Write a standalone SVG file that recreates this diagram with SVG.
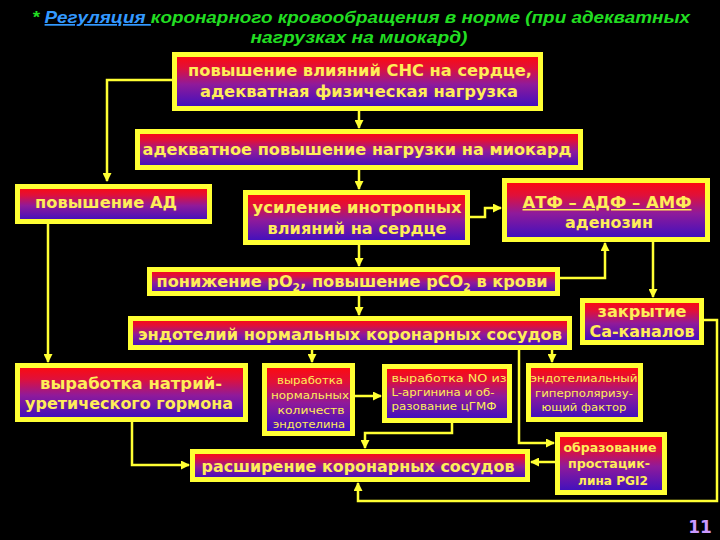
<svg xmlns="http://www.w3.org/2000/svg" width="720" height="540" viewBox="0 0 720 540">
<defs>
<linearGradient id="g" x1="0" y1="0" x2="0" y2="1">
<stop offset="0" stop-color="#ff0a0a"/>
<stop offset="0.25" stop-color="#e0103a"/>
<stop offset="0.55" stop-color="#901a9a"/>
<stop offset="1" stop-color="#3a10c0"/>
</linearGradient>
<marker id="a" markerUnits="userSpaceOnUse" markerWidth="9" markerHeight="9" refX="8" refY="4.5" orient="auto">
<path d="M0,0 L9,4.5 L0,9 z" fill="#ffff33"/>
</marker>
<style>
.box{fill:url(#g);stroke:#ffff33;stroke-width:5}
.t{font-family:"DejaVu Sans",sans-serif;font-weight:bold;fill:#ffee58;text-anchor:middle}
.m{font-size:15px}
.s{font-size:10.5px;font-weight:normal}
.c{fill:none;stroke:#ffff33;stroke-width:2.5}
.title{font-family:"Liberation Sans",sans-serif;font-style:italic;font-weight:bold;font-size:17px;fill:#22dd22}
</style>
</defs>
<rect width="720" height="540" fill="#000"/>
<g id="title">
<text class="title" x="32" y="23" textLength="658" lengthAdjust="spacingAndGlyphs">* <tspan fill="#3399ff" text-decoration="underline">Регуляция </tspan>коронарного кровообращения в норме (при адекватных</text>
<text class="title" x="359" y="43" text-anchor="middle" textLength="217" lengthAdjust="spacingAndGlyphs">нагрузках на миокард)</text>
</g>
<g id="connectors">
<path class="c" d="M172,80 H107 V181" marker-end="url(#a)"/>
<path class="c" d="M359,111 V128" marker-end="url(#a)"/>
<path class="c" d="M359,170 V189" marker-end="url(#a)"/>
<path class="c" d="M359,245 V266" marker-end="url(#a)"/>
<path class="c" d="M470,217 H485 V208 H501" marker-end="url(#a)"/>
<path class="c" d="M560,278 H605 V243" marker-end="url(#a)"/>
<path class="c" d="M653,242 V297" marker-end="url(#a)"/>
<path class="c" d="M359,296 V315" marker-end="url(#a)"/>
<path class="c" d="M48,224 V362" marker-end="url(#a)"/>
<path class="c" d="M312,350 V362" marker-end="url(#a)"/>
<path class="c" d="M552,350 V362" marker-end="url(#a)"/>
<path class="c" d="M519,350 V443 H554" marker-end="url(#a)"/>
<path class="c" d="M355,396 H381" marker-end="url(#a)"/>
<path class="c" d="M452,423 V433 H365 V448" marker-end="url(#a)"/>
<path class="c" d="M132,422 V465 H189" marker-end="url(#a)"/>
<path class="c" d="M555,462 H531" marker-end="url(#a)"/>
<path class="c" d="M704,320 H717 V501 H358 V483" marker-end="url(#a)"/>
</g>
<g id="n1">
<rect class="box" x="174.5" y="54.5" width="366" height="54"/>
<text class="t m" x="360" y="76" textLength="344" lengthAdjust="spacingAndGlyphs">повышение влияний СНС на сердце,</text>
<text class="t m" x="359" y="97" textLength="318" lengthAdjust="spacingAndGlyphs">адекватная физическая нагрузка</text>
</g>
<g id="n2">
<rect class="box" x="137.5" y="131.5" width="443" height="36"/>
<text class="t m" x="357" y="155" textLength="429" lengthAdjust="spacingAndGlyphs">адекватное повышение нагрузки на миокард</text>
</g>
<g id="n3">
<rect class="box" x="17.5" y="186.5" width="192" height="35"/>
<text class="t m" x="106" y="208" textLength="142" lengthAdjust="spacingAndGlyphs">повышение АД</text>
</g>
<g id="n4">
<rect class="box" x="245.5" y="192.5" width="222" height="50"/>
<text class="t m" x="357" y="213" textLength="209" lengthAdjust="spacingAndGlyphs">усиление инотропных</text>
<text class="t m" x="357" y="234" textLength="179" lengthAdjust="spacingAndGlyphs">влияний на сердце</text>
</g>
<g id="n5">
<rect class="box" x="504.5" y="180.5" width="203" height="59"/>
<text class="t m" x="607" y="208" textLength="169" lengthAdjust="spacingAndGlyphs" text-decoration="underline">АТФ – АДФ – АМФ</text>
<text class="t m" x="609" y="228" textLength="88" lengthAdjust="spacingAndGlyphs">аденозин</text>
</g>
<g id="n6">
<rect class="box" x="149.5" y="269.5" width="408" height="24"/>
<text class="t m" x="352" y="287" textLength="391" lengthAdjust="spacingAndGlyphs">понижение pO<tspan font-size="10" dy="4">2</tspan><tspan dy="-4">, повышение pCO</tspan><tspan font-size="10" dy="4">2</tspan><tspan dy="-4"> в крови</tspan></text>
</g>
<g id="n7">
<rect class="box" x="130.5" y="318.5" width="439" height="29"/>
<text class="t m" x="350" y="340" textLength="424" lengthAdjust="spacingAndGlyphs">эндотелий нормальных коронарных сосудов</text>
</g>
<g id="n8">
<rect class="box" x="582.5" y="300.5" width="119" height="42"/>
<text class="t m" x="642" y="317" font-size="16" textLength="89" lengthAdjust="spacingAndGlyphs">закрытие</text>
<text class="t m" x="642" y="337" font-size="16" textLength="105" lengthAdjust="spacingAndGlyphs">Са-каналов</text>
</g>
<g id="n9">
<rect class="box" x="17.5" y="365.5" width="228" height="54"/>
<text class="t m" x="131" y="389" textLength="182" lengthAdjust="spacingAndGlyphs">выработка натрий-</text>
<text class="t m" x="129" y="409" textLength="208" lengthAdjust="spacingAndGlyphs">уретического гормона</text>
</g>
<g id="n10">
<rect class="box" x="264.5" y="365.5" width="88" height="68"/>
<text class="t s" x="310" y="384" textLength="66" lengthAdjust="spacingAndGlyphs">выработка</text>
<text class="t s" x="310" y="399" textLength="78" lengthAdjust="spacingAndGlyphs">нормальных</text>
<text class="t s" x="311" y="414" textLength="67" lengthAdjust="spacingAndGlyphs">количеств</text>
<text class="t s" x="309" y="428" textLength="72" lengthAdjust="spacingAndGlyphs">эндотелина</text>
</g>
<g id="n11">
<rect class="box" x="384.5" y="366.5" width="125" height="54"/>
<text class="t s" x="449" y="382" textLength="115" lengthAdjust="spacingAndGlyphs">выработка NO из</text>
<text class="t s" x="443" y="396" textLength="103" lengthAdjust="spacingAndGlyphs">L-аргинина и об-</text>
<text class="t s" x="444" y="410" textLength="105" lengthAdjust="spacingAndGlyphs">разование цГМФ</text>
</g>
<g id="n12">
<rect class="box" x="528.5" y="365.5" width="112" height="54"/>
<text class="t s" x="584" y="382" textLength="107" lengthAdjust="spacingAndGlyphs">эндотелиальный</text>
<text class="t s" x="584" y="397" textLength="98" lengthAdjust="spacingAndGlyphs">гиперполяризу-</text>
<text class="t s" x="584" y="411" textLength="85" lengthAdjust="spacingAndGlyphs">ющий фактор</text>
</g>
<g id="n13">
<rect class="box" x="557.5" y="434.5" width="107" height="58"/>
<text class="t" font-size="12.5" font-weight="normal" x="610" y="452" textLength="93" lengthAdjust="spacingAndGlyphs">образование</text>
<text class="t" font-size="12.5" font-weight="normal" x="609" y="468" textLength="82" lengthAdjust="spacingAndGlyphs">простацик-</text>
<text class="t" font-size="12.5" font-weight="normal" x="613" y="485" textLength="70" lengthAdjust="spacingAndGlyphs">лина PGI2</text>
</g>
<g id="n14">
<rect class="box" x="192.5" y="451.5" width="335" height="28"/>
<text class="t m" x="358" y="472" textLength="313" lengthAdjust="spacingAndGlyphs">расширение коронарных сосудов</text>
</g>
<text x="700" y="533" font-family="DejaVu Sans, sans-serif" font-weight="bold" font-size="17" fill="#cc99ff" text-anchor="middle">11</text>
</svg>
